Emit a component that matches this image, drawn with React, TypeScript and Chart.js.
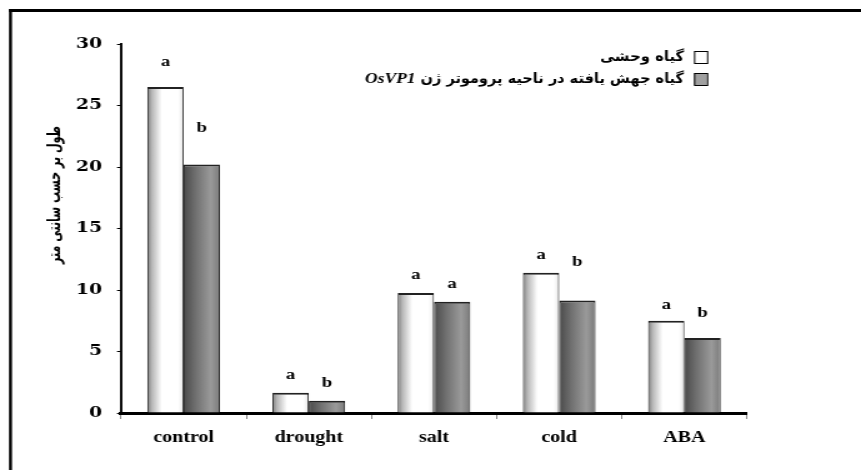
import React, { useEffect, useRef } from "react";
import { Chart, registerables } from "chart.js";

Chart.register(...registerables);

const categories = ["control", "drought", "salt", "cold", "ABA"];
const wildValues = [26.5, 1.65, 9.75, 11.4, 7.5];
const mutantValues = [20.2, 1.0, 9.05, 9.15, 6.1];
const wildLetters = ["a", "a", "a", "a", "a"];
const mutantLetters = ["b", "b", "a", "b", "b"];
const wildLetterHeights = [28.5, 3.1, 11.2, 12.8, 8.8];
const mutantLetterHeights = [23.2, 2.45, 10.5, 12.25, 8.15];
const yMin = 0;
const yMax = 30;
const yStep = 5;
const wildLabel = "گیاه وحشی";
const mutantLabel = "گیاه جهش یافته در ناحیه پروموتر ژن";
const geneLabel = "OsVP1";
const yTitle = "طول بر حسب سانتی متر";

const SERIF = "'Liberation Serif', 'Times New Roman', serif";
const WIDE_SERIF = "'DejaVu Serif', 'Liberation Serif', serif";
const PERSIAN = "'DejaVu Sans', 'Noto Sans', sans-serif";

// the original picture is stretched horizontally; render narrower and stretch by CSS
const CW = 689;
const CH = 470;
const S = 861 / CW;
const px = (v: number) => v / S;

const decor = {
  id: "decor",
  beforeDraw(chart: any) {
    const c = chart.ctx;
    c.save();
    c.fillStyle = "#fff";
    c.fillRect(0, 0, chart.width, chart.height);
    c.fillStyle = "#000";
    c.fillRect(px(9), 9, chart.width, 3);
    c.fillRect(px(9), 9, px(3), chart.height);
    c.restore();
  },
  afterDatasetsUpdate(chart: any) {
    const c = chart.ctx;
    chart.data.datasets.forEach((ds: any, di: number) => {
      const meta = chart.getDatasetMeta(di);
      meta.data.forEach((el: any) => {
        const w = el.width;
        const x0 = el.x - w / 2;
        const g = c.createLinearGradient(x0, 0, x0 + w, 0);
        if (di === 0) {
          g.addColorStop(0, "#7a7a7a");
          g.addColorStop(0.12, "#b5b5b5");
          g.addColorStop(0.4, "#ffffff");
          g.addColorStop(0.85, "#ffffff");
          g.addColorStop(1, "#e6e6e6");
        } else {
          g.addColorStop(0, "#4a4a4a");
          g.addColorStop(0.35, "#727272");
          g.addColorStop(0.75, "#9a9a9a");
          g.addColorStop(1, "#7a7a7a");
        }
        el.options = { ...el.options, backgroundColor: g };
      });
    });
  },
  afterDatasetsDraw(chart: any) {
    const c = chart.ctx;
    const y = chart.scales.y;
    c.save();
    c.fillStyle = "#000";
    c.font = `bold 15px ${SERIF}`;
    c.textAlign = "center";
    c.textBaseline = "middle";
    const sets = [
      [wildLetters, wildLetterHeights],
      [mutantLetters, mutantLetterHeights],
    ];
    sets.forEach(([letters, heights]: any, di: number) => {
      const meta = chart.getDatasetMeta(di);
      meta.data.forEach((el: any, i: number) => {
        c.fillText(letters[i], el.x, y.getPixelForValue(heights[i]));
      });
    });
    c.restore();
  },
  afterDraw(chart: any) {
    const c = chart.ctx;
    c.save();
    // legend
    const boxX = px(694);
    const boxW = px(13);
    const boxH = 12;
    const textRight = px(684);
    const rows = [57, 79];
    c.lineWidth = 1;
    c.strokeStyle = "#000";
    c.fillStyle = "#fff";
    c.fillRect(boxX, rows[0] - boxH / 2, boxW, boxH);
    c.strokeRect(boxX + 0.5, rows[0] - boxH / 2 + 0.5, boxW, boxH);
    c.fillStyle = "#a0a0a0";
    c.fillRect(boxX, rows[1] - boxH / 2, boxW, boxH);
    c.strokeRect(boxX + 0.5, rows[1] - boxH / 2 + 0.5, boxW, boxH);

    c.fillStyle = "#000";
    c.textBaseline = "middle";
    c.textAlign = "right";
    c.font = `bold 14px ${PERSIAN}`;
    c.fillText(wildLabel, textRight, rows[0], px(84));
    c.font = `italic bold 14px ${SERIF}`;
    const gw = c.measureText(geneLabel).width;
    const persianMax = px(682 - 363) - gw - 4;
    c.font = `bold 14px ${PERSIAN}`;
    const natural = c.measureText(mutantLabel).width;
    const w = Math.min(natural, persianMax);
    c.fillText(mutantLabel, textRight, rows[1], persianMax);
    c.font = `italic bold 14px ${SERIF}`;
    c.fillText(geneLabel, textRight - w - 4, rows[1]);

    // y title
    c.translate(px(55), 195);
    c.rotate(-Math.PI / 2);
    c.textAlign = "center";
    c.font = `bold 14px ${PERSIAN}`;
    c.fillText(yTitle, 0, 0, 138);
    c.restore();
  },
};

export default function App() {
  const ref = useRef<HTMLCanvasElement | null>(null);

  useEffect(() => {
    if (!ref.current) return;
    const chart = new Chart(ref.current, {
      type: "bar",
      data: {
        labels: categories,
        datasets: [
          {
            label: wildLabel,
            data: wildValues,
            backgroundColor: "#fff",
            borderColor: "#222",
            borderWidth: { top: 2, left: 1, right: 1, bottom: 0 },
            categoryPercentage: 0.58,
            barPercentage: 1,
          },
          {
            label: mutantLabel + " " + geneLabel,
            data: mutantValues,
            backgroundColor: "#888",
            borderColor: "#222",
            borderWidth: { top: 2, left: 1, right: 1, bottom: 0 },
            categoryPercentage: 0.58,
            barPercentage: 1,
          },
        ],
      },
      options: {
        responsive: false,
        animation: false,
        events: [],
        layout: { padding: { left: 0, top: 44, right: px(861 - 747), bottom: 0 } },
        plugins: {
          legend: { display: false },
          tooltip: { enabled: false },
          title: { display: false },
        },
        scales: {
          x: {
            grid: {
              offset: true,
              drawOnChartArea: false,
              drawTicks: true,
              tickLength: 6,
              color: "#888",
            },
            border: { display: true, color: "#000", width: 3 },
            ticks: {
              color: "#000",
              font: { family: SERIF, size: 16, weight: "bold" },
              padding: 9,
            },
            afterFit: (s: any) => {
              s.height = CH - 413;
            },
          },
          y: {
            min: yMin,
            max: yMax,
            grid: {
              drawOnChartArea: false,
              drawTicks: true,
              tickLength: px(4),
              color: "#000",
            },
            border: { display: true, color: "#000", width: px(2.4) },
            ticks: {
              stepSize: yStep,
              color: "#000",
              font: { family: WIDE_SERIF, size: 15, weight: "bold" },
              padding: px(15),
            },
            afterFit: (s: any) => {
              s.width = px(121);
            },
          },
        },
      },
      plugins: [decor],
    });
    return () => chart.destroy();
  }, []);

  return (
    <div style={{ position: "absolute", left: 0, top: 0, width: 861, height: CH }}>
      <canvas
        ref={ref}
        width={CW}
        height={CH}
        style={{ display: "block", width: 861, height: CH }}
      />
    </div>
  );
}
